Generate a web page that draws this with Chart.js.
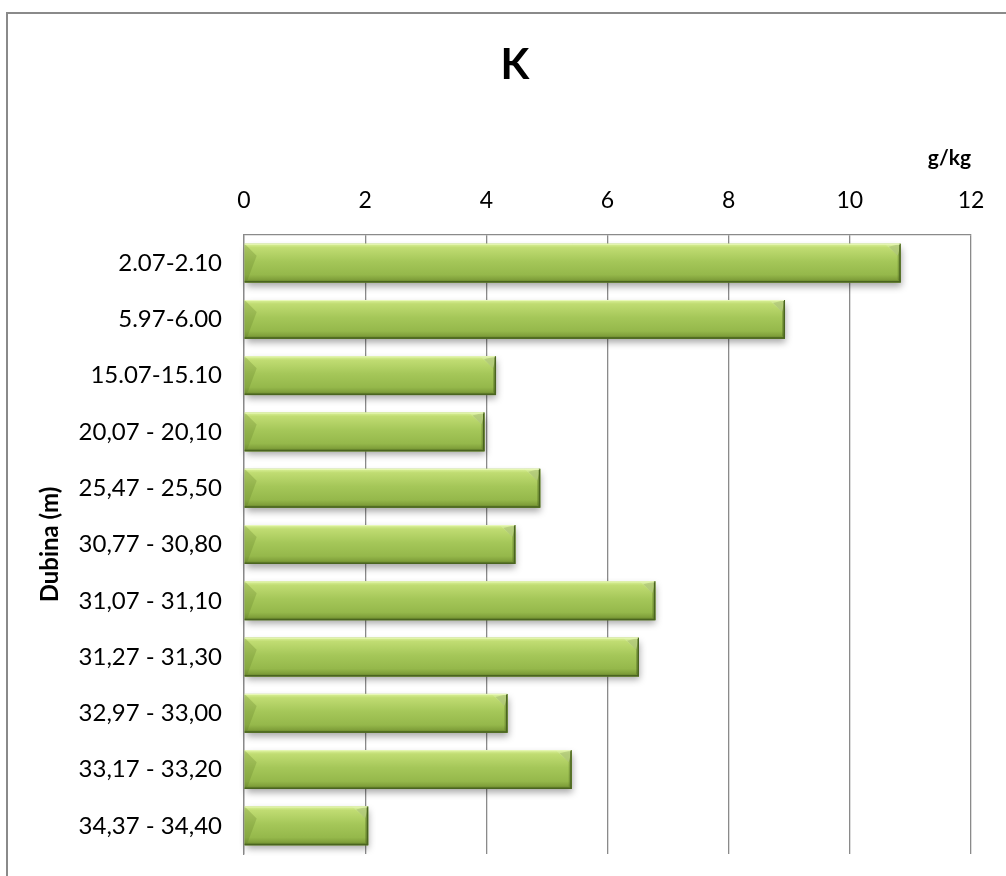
<!DOCTYPE html>
<html>
<head>
<meta charset="utf-8">
<script src="https://cdn.jsdelivr.net/npm/chart.js@4.4.1/dist/chart.umd.min.js"></script>
<style>
  html, body { margin: 0; padding: 0; background: #ffffff; }
  #wrap { position: relative; width: 1006px; height: 876px; }
</style>
</head>
<body>
<div id="wrap"><canvas id="c" width="1006" height="876"></canvas></div>
<script>
const chartTitle = 'K';
const unitLabel = 'g/kg';
const axisLabel = 'Dubina (m)';
const categories = ['2.07-2.10', '5.97-6.00', '15.07-15.10', '20,07 - 20,10', '25,47 - 25,50',
  '30,77 - 30,80', '31,07 - 31,10', '31,27 - 31,30', '32,97 - 33,00', '33,17 - 33,20', '34,37 - 34,40'];
const kValues = [10.84, 8.93, 4.16, 3.97, 4.89, 4.48, 6.79, 6.52, 4.35, 5.41, 2.05];
const xMin = 0, xMax = 12, xStep = 2;

const FONT = 'Lato, "Open Sans", sans-serif';
const GRID = '#8a8a8a';

const framePlugin = {
  id: 'frame',
  beforeDraw(chart) {
    const ctx = chart.ctx;
    ctx.save();
    ctx.fillStyle = '#ffffff';
    ctx.fillRect(0, 0, chart.width, chart.height);
    ctx.strokeStyle = '#8a8a8a';
    ctx.lineWidth = 2;
    ctx.strokeRect(7, 13, chart.width + 50, chart.height + 50);
    ctx.restore();
  }
};

const bevelPlugin = {
  id: 'bevel',
  afterDatasetsDraw(chart) {
    const ctx = chart.ctx;
    const meta = chart.getDatasetMeta(0);
    meta.data.forEach(el => {
      const p = el.getProps(['x', 'y', 'base', 'height'], true);
      const left = Math.min(p.base, p.x), right = Math.max(p.base, p.x);
      const top = p.y - p.height / 2, bottom = p.y + p.height / 2;
      const w = right - left, h = bottom - top;
      ctx.save();
      ctx.shadowColor = 'rgba(0,0,0,0.35)';
      ctx.shadowBlur = 7;
      ctx.shadowOffsetX = 1;
      ctx.shadowOffsetY = 4;
      ctx.fillStyle = '#8fb04a';
      ctx.fillRect(left, top, w, h);
      ctx.restore();

      ctx.save();
      const g = ctx.createLinearGradient(0, top, 0, bottom);
      g.addColorStop(0, '#dcf29c');
      g.addColorStop(0.1, '#c0dc72');
      g.addColorStop(0.45, '#a5c759');
      g.addColorStop(0.8, '#95b84b');
      g.addColorStop(0.92, '#80a03b');
      g.addColorStop(1, '#5d7a25');
      ctx.fillStyle = g;
      ctx.fillRect(left, top, w, h);

      const b = Math.min(12, w / 2);
      ctx.beginPath();
      ctx.moveTo(right, top);
      ctx.lineTo(right, bottom);
      ctx.lineTo(right - 3, bottom - 3);
      ctx.lineTo(right - 3, top + b);
      ctx.lineTo(right - b, top + 3);
      ctx.closePath();
      ctx.fillStyle = 'rgba(70,95,25,0.35)';
      ctx.fill();
      ctx.beginPath();
      ctx.moveTo(right - b - 4, top);
      ctx.lineTo(right, top);
      ctx.lineTo(right - 3, top + b);
      ctx.closePath();
      ctx.fillStyle = 'rgba(220,240,170,0.45)';
      ctx.fill();
      ctx.beginPath();
      ctx.moveTo(left, top);
      ctx.lineTo(left + b, top + b);
      ctx.lineTo(left + 3, bottom - 3);
      ctx.lineTo(left, bottom);
      ctx.closePath();
      ctx.fillStyle = 'rgba(90,120,35,0.25)';
      ctx.fill();
      ctx.strokeStyle = '#4a6420';
      ctx.lineWidth = 1.5;
      ctx.beginPath();
      ctx.moveTo(left, bottom - 0.75);
      ctx.lineTo(right - 0.75, bottom - 0.75);
      ctx.lineTo(right - 0.75, top);
      ctx.stroke();
      ctx.strokeStyle = 'rgba(235,250,190,0.9)';
      ctx.lineWidth = 1;
      ctx.beginPath();
      ctx.moveTo(left, top + 0.5);
      ctx.lineTo(right - 1, top + 0.5);
      ctx.stroke();
      ctx.restore();
    });
  }
};

new Chart(document.getElementById('c'), {
  type: 'bar',
  data: {
    labels: categories,
    datasets: [{
      label: chartTitle,
      data: kValues,
      backgroundColor: 'rgba(0,0,0,0)',
      borderWidth: 0,
      barPercentage: 0.69,
      categoryPercentage: 1.0
    }]
  },
  options: {
    indexAxis: 'y',
    responsive: false,
    animation: false,
    devicePixelRatio: 1,
    layout: { padding: { left: 35, right: 11, top: 0, bottom: 22 } },
    plugins: {
      legend: { display: false },
      tooltip: { enabled: false },
      title: {
        display: true,
        text: chartTitle,
        color: '#000000',
        font: { family: FONT, size: 42, weight: 'bold', lineHeight: 1.2 },
        padding: { top: 40, bottom: 0 }
      }
    },
    scales: {
      x: {
        type: 'linear',
        position: 'top',
        min: xMin,
        max: xMax,
        ticks: {
          stepSize: xStep,
          color: '#000000',
          padding: 21,
          font: { family: FONT, size: 23 }
        },
        grid: { display: true, color: GRID, lineWidth: 1.3, drawTicks: false },
        border: { display: true, color: GRID, width: 1.3 },
        title: {
          display: true,
          text: unitLabel,
          align: 'end',
          color: '#000000',
          font: { family: FONT, size: 21, weight: 'bold', lineHeight: 1.2 },
          padding: { top: 55, bottom: 0 }
        },
        afterFit(scale) { scale.height = 144.6; }
      },
      y: {
        type: 'category',
        position: 'left',
        ticks: {
          color: '#000000',
          padding: 22,
          font: { family: FONT, size: 24 }
        },
        grid: { display: false, drawTicks: false },
        border: { display: true, color: GRID, width: 1.3 },
        title: {
          display: true,
          text: axisLabel,
          color: '#000000',
          font: { family: FONT, size: 24, weight: 'bold', lineHeight: 1.2 },
          padding: { top: 1, bottom: 0 }
        },
        afterFit(scale) {
          scale.width = 244 - 35;
          scale.paddingTop = 0;
          scale.paddingBottom = 0;
        }
      },
      y2: {
        type: 'category',
        position: 'right',
        display: true,
        ticks: { display: false },
        grid: { display: false, drawTicks: false },
        border: { display: false },
        afterFit(scale) { scale.width = 24; }
      }
    }
  },
  plugins: [framePlugin, bevelPlugin]
});
</script>
</body>
</html>
